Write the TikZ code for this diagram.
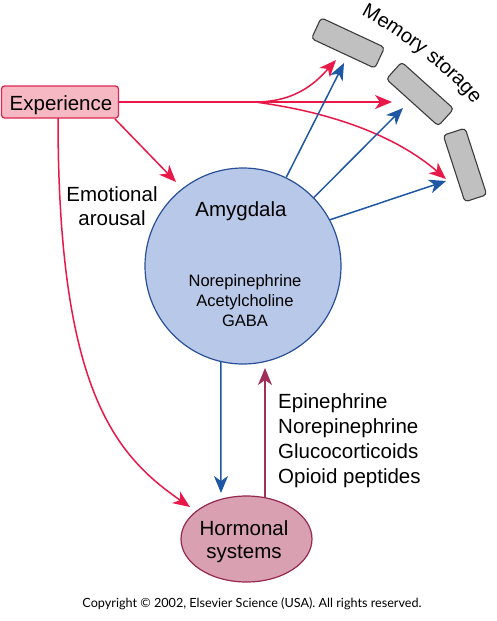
\documentclass[tikz,border=0pt]{standalone}
\usepackage{fontspec}
\usepackage{graphicx}
\setmainfont{Liberation Sans}
\newfontfamily\copyfont{Lato}
\usetikzlibrary{arrows.meta,shapes.geometric,decorations.text}
\definecolor{redA}{RGB}{232,24,72}
\definecolor{blueA}{RGB}{30,88,165}
\definecolor{maroonA}{RGB}{160,48,90}
\definecolor{expfill}{RGB}{246,185,196}
\definecolor{expborder}{RGB}{220,40,80}
\definecolor{amyfill}{RGB}{184,200,232}
\definecolor{amyborder}{RGB}{40,80,150}
\definecolor{hormfill}{RGB}{216,160,176}
\definecolor{hormborder}{RGB}{150,40,80}
\definecolor{memfill}{RGB}{192,192,192}
\definecolor{memborder}{RGB}{60,60,60}
\tikzset{
  tip/.style={-{Stealth[length=17pt,width=14pt,inset=5pt]}},
  redarrow/.style={tip,draw=redA,line width=1.5pt},
  bluearrow/.style={tip,draw=blueA,line width=1.5pt},
  maroonarrow/.style={tip,draw=maroonA,line width=1.5pt},
  membox/.style={draw=memborder,fill=memfill,line width=1.1pt,rounded corners=3.5pt,minimum width=70pt,minimum height=23pt,inner sep=0pt},
  bigtxt/.style={font=\fontsize{20.5}{25}\selectfont,inner sep=0pt},
  smalltxt/.style={font=\fontsize{16.5}{20}\selectfont,inner sep=0pt},
}
\begin{document}
\begin{tikzpicture}[x=1pt,y=-1pt]
\useasboundingbox (0,0) rectangle (496,621);
% memory boxes
\node[membox,rotate=-25] (mem1) at (348,43) {};
\node[membox,rotate=-42] (mem2) at (420,94) {};
\node[membox,rotate=-72] (mem3) at (465,165) {};
\path[decorate,decoration={text along path,text align=left,
  text={|\fontsize{20}{20}\selectfont|Memory storage}}]
  (361,15) .. controls (390,29) and (460,80) .. (476,110) -- (484,126);
% main nodes
\node[draw=expborder,fill=expfill,line width=1.3pt,rounded corners=3pt,minimum width=117pt,minimum height=32pt,inner sep=0pt] (exp) at (60,102) {};
\node[bigtxt,anchor=base] (exptxt) at (61,110) {Experience};
\node[circle,draw=amyborder,fill=amyfill,line width=1.2pt,minimum size=196pt,inner sep=0pt] (amy) at (243,266) {};
\node[bigtxt,anchor=base] (amytxt) at (241,216) {Amygdala};
\node[smalltxt,anchor=base] (nt1) at (245,286) {Norepinephrine};
\node[smalltxt,anchor=base] (nt2) at (245,306.5) {Acetylcholine};
\node[smalltxt,anchor=base] (nt3) at (245,326.5) {GABA};
\node[ellipse,draw=hormborder,fill=hormfill,line width=1.2pt,minimum width=131pt,minimum height=86pt,inner sep=0pt] (horm) at (246.5,539) {};
\node[bigtxt,anchor=base] (horm1) at (244,535) {Hormonal};
\node[bigtxt,anchor=base] (horm2) at (244,558) {systems};
\node[bigtxt,anchor=base] (emo1) at (112,201) {Emotional};
\node[bigtxt,anchor=base] (emo2) at (112,225) {arousal};
\node[bigtxt,anchor=base west] (h1) at (278,408) {Epinephrine};
\node[bigtxt,anchor=base west] (h2) at (278,433) {Norepinephrine};
\node[bigtxt,anchor=base west] (h3) at (278,458) {Glucocorticoids};
\node[bigtxt,anchor=base west] (h4) at (278,483) {Opioid peptides};
\node[anchor=base,inner sep=0pt] (copy) at (252,607) {\resizebox{339pt}{!}{\copyfont Copyright © 2002, Elsevier Science (USA). All rights reserved.}};
% coordinates
\coordinate (br) at (255,102);
\coordinate (t1) at (336,60);
\coordinate (t2) at (392,102);
\coordinate (t3) at (446,179);
\coordinate (t4) at (176,182);
\coordinate (t5) at (190,507);
\coordinate (b1) at (344,63);
\coordinate (b2) at (403,108);
\coordinate (b3) at (446,181);
\coordinate (b4) at (221,493);
\coordinate (m1) at (265,368);
\coordinate (e1) at (115,119);
\coordinate (e2) at (58,118);
\coordinate (m0) at (265,497);
% red arrows
\draw[redarrow] (exp.east) -- (t2);
\draw[redarrow] (br) .. controls (298,102) and (318,80) .. (t1);
\draw[redarrow] (br) .. controls (330,112) and (395,135) .. (t3);
\draw[redarrow] (e1) -- (t4);
\draw[redarrow] (e2) .. controls (58,390) and (115,455) .. (t5);
% blue arrows
\draw[bluearrow] (amy.64) -- (b1);
\draw[bluearrow] (amy.44) -- (b2);
\draw[bluearrow] (amy.28) -- (b3);
\draw[bluearrow] (amy.-103) -- (b4);
% maroon arrow
\draw[maroonarrow] (m0) -- (m1);
\end{tikzpicture}
\end{document}
